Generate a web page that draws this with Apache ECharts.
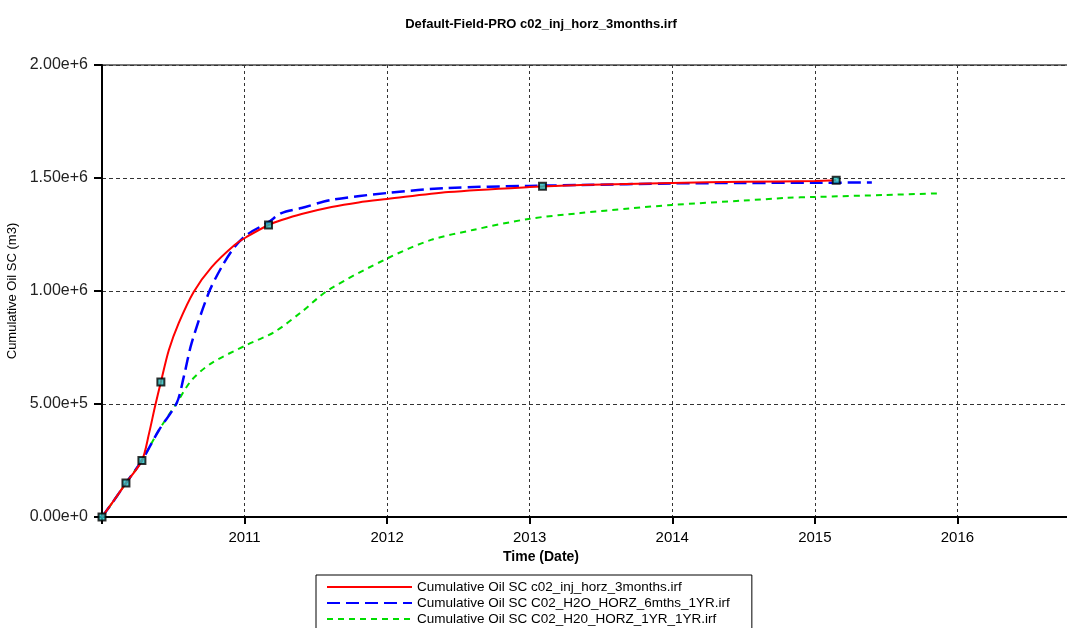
<!DOCTYPE html>
<html>
<head>
<meta charset="utf-8">
<script src="https://cdn.jsdelivr.net/npm/echarts@6/dist/echarts.min.js"></script>
<style>
html,body{margin:0;padding:0;background:#fff;}
#chart{width:1067px;height:628px;}
</style>
</head>
<body>
<div id="chart"></div>
<script>
// Time in decimal years, cumulative oil in m3
const titleText = 'Default-Field-PRO c02_inj_horz_3months.irf';
const seriesNames = [
  'Cumulative Oil SC c02_inj_horz_3months.irf',
  'Cumulative Oil SC C02_H2O_HORZ_6mths_1YR.irf',
  'Cumulative Oil SC C02_H20_HORZ_1YR_1YR.irf'
];

const redX = [2010.0, 2010.08, 2010.168, 2010.28, 2010.33, 2010.371, 2010.413, 2010.469, 2010.538, 2010.643, 2010.769, 2010.93, 2011.014, 2011.168, 2011.26, 2011.4, 2011.61, 2011.8, 2012.0, 2012.43, 2013.0, 2013.36, 2014.0, 2014.5, 2015.0, 2015.15];
const redY = [0, 70e3, 150e3, 250e3, 370e3, 487e3, 597e3, 739e3, 858e3, 996e3, 1106e3, 1204e3, 1239e3, 1292e3, 1314e3, 1341e3, 1372e3, 1392e3, 1407e3, 1438e3, 1460e3, 1469e3, 1478e3, 1483e3, 1487e3, 1490e3];

const blueX = [2010.0, 2010.08, 2010.168, 2010.28, 2010.40, 2010.524, 2010.573, 2010.629, 2010.748, 2010.839, 2010.93, 2011.014, 2011.168, 2011.259, 2011.399, 2011.608, 2012.007, 2012.427, 2012.993, 2013.357, 2014.0, 2014.5, 2015.0, 2015.4];
const blueY = [0, 70e3, 150e3, 250e3, 385e3, 504e3, 619e3, 770e3, 991e3, 1106e3, 1195e3, 1248e3, 1305e3, 1345e3, 1367e3, 1403e3, 1434e3, 1456e3, 1465e3, 1469e3, 1476e3, 1478e3, 1479e3, 1480e3];

const greenX = [2010.0, 2010.08, 2010.168, 2010.28, 2010.40, 2010.524, 2010.629, 2010.769, 2011.014, 2011.21, 2011.399, 2011.587, 2012.007, 2012.308, 2012.601, 2012.993, 2013.357, 2013.7, 2014.0, 2014.5, 2014.8, 2015.0, 2015.5, 2015.87];
const greenY = [0, 70e3, 150e3, 250e3, 385e3, 504e3, 606e3, 681e3, 761e3, 819e3, 907e3, 1004e3, 1146e3, 1226e3, 1270e3, 1319e3, 1345e3, 1365e3, 1381e3, 1400e3, 1412e3, 1416e3, 1425e3, 1432e3];

const markerX = [2010.0, 2010.168, 2010.28, 2010.413, 2011.168, 2013.09, 2015.15];
const markerY = [0, 150e3, 250e3, 597e3, 1292e3, 1463e3, 1490e3];

const xMin = 2010, xMax = 2016.79, yMin = 0, yMax = 2e6, yStep = 5e5;

function zip(xs, ys){ return xs.map((x,i)=>[x, ys[i]]); }
function sci(v){
  if (v === 0) return '0.00e+0';
  const e = Math.floor(Math.log10(v) + 1e-9);
  return (v/Math.pow(10,e)).toFixed(2) + 'e+' + e;
}

const FONT = "'Liberation Sans', Arial, sans-serif";
const chart = echarts.init(document.getElementById('chart'), null, {renderer:'canvas'});
chart.setOption({
  animation: false,
  backgroundColor: '#fff',
  title: {
    text: titleText, left: 536, textAlign: 'center', top: 13,
    textStyle: {fontFamily: FONT, fontSize: 13, fontWeight: 'bold', color: '#000'}
  },
  legend: {
    data: seriesNames,
    orient: 'vertical', left: 316, top: 575, height: 80,
    itemWidth: 85, itemHeight: 12, itemGap: 2,
    padding: [5, 22, 30, 10],
    borderColor: '#000', borderWidth: 1,
    itemStyle: {opacity: 0},
    textStyle: {fontFamily: FONT, fontSize: 13.5, lineHeight: 13, color: '#000'}
  },
  grid: {left: 102, right: -3, top: 65, bottom: 111, outerBoundsMode: 'none',
         show: true, borderColor: '#777', borderWidth: 2, backgroundColor: 'transparent'},
  xAxis: {
    type: 'value', min: xMin, max: xMax, interval: 1,
    name: 'Time (Date)', nameLocation: 'middle', nameGap: 33,
    nameTextStyle: {fontFamily: FONT, fontSize: 14, fontWeight: 'bold', color: '#000', padding: [0, 90, 0, 0]},
    axisLine: {show: true, onZero: false, lineStyle: {color: '#000', width: 2}},
    axisTick: {show: true, length: 7, lineStyle: {color: '#000', width: 2}},
    axisLabel: {
      fontFamily: FONT, fontSize: 15, color: '#000', margin: 13,
      formatter: v => (Number.isInteger(v) && v > xMin) ? String(v) : ''
    },
    splitLine: {show: true, lineStyle: {color: '#333', type: [3, 3], width: 1}}
  },
  yAxis: {
    type: 'value', min: yMin, max: yMax, interval: yStep,
    name: 'Cumulative Oil SC (m3)', nameLocation: 'middle', nameGap: 75, nameRotate: 90,
    nameTextStyle: {fontFamily: FONT, fontSize: 13, color: '#000'},
    axisLine: {show: true, lineStyle: {color: '#000', width: 2}},
    axisTick: {show: true, length: 8, lineStyle: {color: '#000', width: 2}},
    axisLabel: {fontFamily: FONT, fontSize: 16, color: '#222', margin: 14, formatter: sci},
    splitLine: {show: true, lineStyle: {color: '#333', type: [4, 3], width: 1}}
  },
  series: [{
    name: seriesNames[0], type: 'line', data: zip(redX, redY),
    symbol: 'none', smooth: 0.3, z: 4,
    lineStyle: {color: '#ff0000', width: 2}, itemStyle: {color: '#ff0000'}
  }, {
    name: seriesNames[1], type: 'line', data: zip(blueX, blueY),
    symbol: 'none', smooth: 0.3, z: 3,
    lineStyle: {color: '#0000ff', width: 2.5, type: [13, 6]}, itemStyle: {color: '#0000ff'}
  }, {
    name: seriesNames[2], type: 'line', data: zip(greenX, greenY),
    symbol: 'none', smooth: 0.3, z: 2,
    lineStyle: {color: '#00dd00', width: 2, type: [6, 5]}, itemStyle: {color: '#00dd00'}
  }, {
    name: 'markers', type: 'scatter', data: zip(markerX, markerY),
    symbol: 'rect', symbolSize: 7, z: 5,
    itemStyle: {color: '#22bbbb', borderColor: '#000', borderWidth: 2}
  }]
});
</script>
</body>
</html>
